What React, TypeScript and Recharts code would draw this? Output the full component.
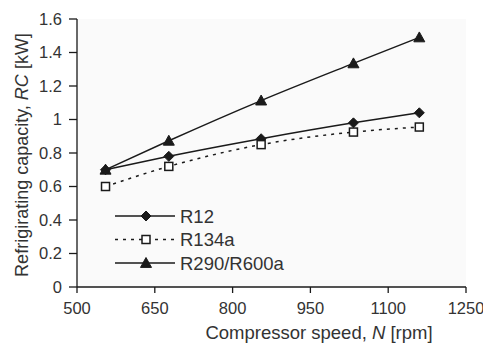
import React from "react";
import { LineChart, Line, XAxis, YAxis } from "recharts";

const speeds = [555, 677, 855, 1033, 1160];
const r12 = [0.7, 0.78, 0.885, 0.98, 1.04];
const r134a = [0.6, 0.72, 0.85, 0.925, 0.955];
const r290 = [0.7, 0.873, 1.113, 1.335, 1.49];
const xTicks = [500, 650, 800, 950, 1100, 1250];
const yTicks = [0, 0.2, 0.4, 0.6, 0.8, 1, 1.2, 1.4, 1.6];

const data = speeds.map((n, i) => ({ n, r12: r12[i], r134a: r134a[i], r290: r290[i] }));

const INK = "#1a1a1a";
const TXT = "#333";
const FONT = "Liberation Sans, Arial, sans-serif";

function Diamond({ cx, cy }: any) {
  if (cx == null || cy == null) return null;
  const s = 5;
  return <path d={`M${cx},${cy - s}L${cx + s},${cy}L${cx},${cy + s}L${cx - s},${cy}Z`} fill={INK} stroke={INK} />;
}

function Square({ cx, cy }: any) {
  if (cx == null || cy == null) return null;
  const s = 4;
  return <rect x={cx - s} y={cy - s} width={s * 2} height={s * 2} fill="#fff" stroke={INK} strokeWidth={1.5} />;
}

function Triangle({ cx, cy }: any) {
  if (cx == null || cy == null) return null;
  const s = 5.5;
  return <path d={`M${cx},${cy - s}L${cx + s},${cy + s * 0.8}L${cx - s},${cy + s * 0.8}Z`} fill={INK} stroke={INK} />;
}

const legendItems = [
  { name: "R12", dash: undefined, Mark: Diamond },
  { name: "R134a", dash: "3 5", Mark: Square },
  { name: "R290/R600a", dash: undefined, Mark: Triangle },
];

function LegendBox() {
  return (
    <svg width={200} height={75} style={{ position: "absolute", left: 115, top: 206, overflow: "visible" }}>
      {legendItems.map((it, i) => {
        const y = 10 + i * 23.5;
        return (
          <g key={it.name}>
            <line x1={0} x2={60} y1={y} y2={y} stroke={INK} strokeWidth={1.5} strokeDasharray={it.dash} />
            <it.Mark cx={31} cy={y} />
            <text x={65} y={y + 6.5} fontSize={18.5} fill={TXT} fontFamily={FONT}>
              {it.name}
            </text>
          </g>
        );
      })}
    </svg>
  );
}

function XTitle({ viewBox }: any) {
  const { x, y, width } = viewBox;
  return (
    <text x={x + width / 2 + 47.5} y={y + 52} textAnchor="middle" fontSize={18.5} fill={TXT} fontFamily={FONT}>
      Compressor speed, <tspan fontStyle="italic">N</tspan> [rpm]
    </text>
  );
}

function YTitle({ viewBox }: any) {
  const { y, height } = viewBox;
  const cx = 28;
  const cy = y + height / 2 + 2;
  return (
    <text x={cx} y={cy} transform={`rotate(-90 ${cx} ${cy})`} textAnchor="middle" fontSize={18} fill={TXT} fontFamily={FONT}>
      Refrigirating capacity, <tspan fontStyle="italic">RC</tspan> [kW]
    </text>
  );
}

export default function App() {
  const tick = { fontSize: 16.5, fill: TXT, fontFamily: FONT };
  return (
    <div style={{ position: "absolute", left: 0, top: 0, width: 483, height: 347, background: "#fff" }}>
      <LineChart width={483} height={347} data={data} margin={{ top: 19, right: 17, left: 0, bottom: 0 }}>
        <rect x={77} y={19} width={389} height={268} fill="#fafafa" />
        <XAxis
          dataKey="n"
          type="number"
          domain={[500, 1250]}
          ticks={xTicks}
          height={60}
          tick={tick}
          tickSize={6}
          tickMargin={9}
          stroke={INK}
          strokeWidth={1.3}
          label={<XTitle />}
        />
        <XAxis xAxisId="top" orientation="top" type="number" domain={[500, 1250]} tick={false} tickLine={false} stroke={INK} strokeWidth={1.3} height={0} />
        <YAxis
          type="number"
          domain={[0, 1.6]}
          ticks={yTicks}
          width={77}
          tick={tick}
          tickSize={8}
          tickMargin={7}
          stroke={INK}
          strokeWidth={1.3}
          label={<YTitle />}
        />
        <YAxis yAxisId="right" orientation="right" type="number" domain={[0, 1.6]} tick={false} tickLine={false} stroke={INK} strokeWidth={1.3} width={0} />
        <Line type="monotone" dataKey="r290" stroke={INK} strokeWidth={1.5} dot={<Triangle />} activeDot={false} isAnimationActive={false} />
        <Line type="monotone" dataKey="r12" stroke={INK} strokeWidth={1.5} dot={<Diamond />} activeDot={false} isAnimationActive={false} />
        <Line type="monotone" dataKey="r134a" stroke={INK} strokeWidth={1.5} strokeDasharray="3 5" dot={<Square />} activeDot={false} isAnimationActive={false} />
      </LineChart>
      <LegendBox />
    </div>
  );
}
